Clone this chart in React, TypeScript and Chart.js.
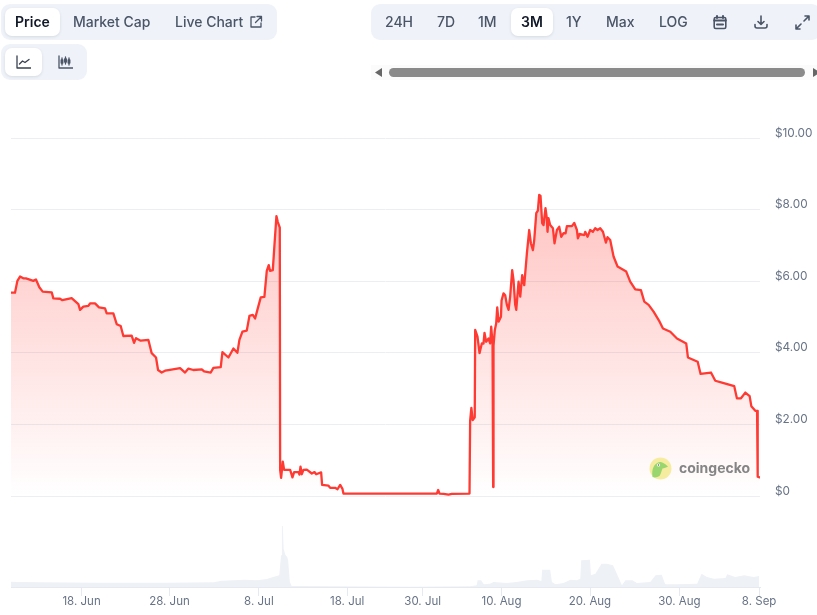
import React, { useEffect, useRef } from "react";
import { Chart, registerables } from "chart.js";

Chart.register(...registerables);

const rangeTabs = [
  { label: "24H", left: 385 },
  { label: "7D", left: 437 },
  { label: "1M", left: 478 },
  { label: "3M", left: 521, active: true },
  { label: "1Y", left: 566 },
  { label: "Max", left: 606 },
  { label: "LOG", left: 659 },
];

const priceTicks = [0, 2, 4, 6, 8, 10];
const tickDays = [7.97, 17.9, 28.0, 37.97, 46.5, 55.4, 65.4, 75.5, 84.5];
const tickLabels = ["18. Jun", "28. Jun", "8. Jul", "18. Jul", "30. Jul", "10. Aug", "20. Aug", "30. Aug", "8. Sep"];

const priceDays = [
  0, 0.45, 0.72, 1.02, 1.39, 1.69, 2.52, 2.82, 3.2, 3.58, 4.6, 4.78, 5.54, 5.8, 6.85, 7.61, 7.8, 8.17, 8.74, 8.93,
  9.49, 9.94, 10.62, 10.81, 11.56, 11.94, 12.39, 12.69, 13.63, 13.9, 14.12, 14.65, 15.52, 15.89, 16.38, 16.61, 17.02,
  17.4, 17.78, 19.1, 19.66, 20.04, 20.6, 21.55, 21.81, 22.56, 22.86, 23.69, 23.88, 24.56, 25.12, 25.57, 25.8, 26.14,
  26.63, 26.93, 27.31, 27.57, 27.83, 28.21, 28.62, 28.89, 29.11, 29.26, 29.57, 29.72, 29.98, 30.13, 30.36, 30.4,
  30.51, 30.7, 30.85, 31.53, 31.79, 31.98, 32.47, 32.58, 32.7, 32.85, 33.03, 33.41, 33.98, 34.28, 34.47, 35.03, 35.14,
  35.86, 36.05, 36.61, 36.88, 37.18, 37.44, 37.55, 48.1, 48.25, 48.4, 48.85, 49.42, 49.79, 51.79, 51.86, 52.0, 52.15,
  52.38, 52.43, 52.69, 52.92, 53.18, 53.37, 53.48, 53.67, 53.94, 54.12, 54.24, 54.39, 54.46, 54.5, 54.65, 54.8, 54.92,
  55.07, 55.34, 55.41, 55.63, 55.82, 56.01, 56.2, 56.38, 56.61, 56.76, 56.95, 57.07, 57.33, 57.52, 57.74, 57.97, 58.27,
  58.53, 58.72, 58.95, 59.1, 59.33, 59.51, 59.66, 59.81, 60.0, 60.15, 60.37, 60.52, 60.6, 60.71, 60.9, 61.21, 61.39,
  61.66, 61.92, 62.15, 62.41, 62.64, 62.79, 63.36, 63.62, 63.92, 64.03, 64.22, 64.75, 64.86, 65.12, 65.42, 65.72,
  65.99, 66.25, 66.55, 66.86, 67.19, 67.38, 67.68, 68.06, 68.51, 69.49, 69.94, 70.51, 71.15, 71.53, 72.02, 72.58,
  73.26, 73.64, 74.47, 75.22, 76.27, 76.46, 77.56, 77.89, 79.06, 79.55, 80.3, 81.69, 81.99, 82.45, 82.94, 83.43,
  83.62, 84.07, 84.27, 84.34, 84.56,
];
const priceValues = [
  5.68, 5.68, 6.01, 6.13, 6.08, 6.08, 6.01, 6.05, 5.83, 5.71, 5.69, 5.52, 5.51, 5.47, 5.53, 5.36, 5.2, 5.29, 5.31, 5.38,
  5.38, 5.27, 5.24, 5.1, 5.1, 4.8, 4.75, 4.47, 4.48, 4.28, 4.41, 4.34, 4.36, 3.99, 3.87, 3.52, 3.45,
  3.5, 3.52, 3.57, 3.45, 3.56, 3.52, 3.54, 3.48, 3.45, 3.58, 3.6, 4.02, 3.87, 4.12, 4.0, 4.36, 4.59,
  4.62, 5.03, 5.06, 4.96, 5.2, 5.55, 5.56, 6.29, 6.45, 6.29, 6.31, 6.87, 7.82, 7.66, 7.5, 0.73,
  0.51, 0.96, 0.73, 0.73, 0.52, 0.67, 0.67, 0.6, 0.82, 0.61, 0.73, 0.74, 0.63, 0.67, 0.61, 0.66, 0.31,
  0.29, 0.23, 0.23, 0.19, 0.31, 0.2, 0.07, 0.07, 0.17, 0.07, 0.06, 0.04, 0.06, 0.07, 2.1, 2.46, 2.12,
  2.2, 4.64, 4.45, 3.99, 4.26, 4.26, 4.56, 4.31, 4.4, 4.26, 4.73, 4.26, 0.25, 4.2, 4.64, 4.82, 5.27,
  4.87, 5.01, 5.46, 5.66, 5.61, 5.34, 5.2, 5.57, 6.31, 6.03, 5.34, 5.2, 5.99, 5.57, 6.17, 5.89, 6.78,
  7.43, 7.06, 6.87, 7.15, 7.9, 7.97, 8.41, 8.38, 7.62, 7.57, 8.04, 7.76, 7.38, 7.76, 7.57, 7.48, 7.06,
  7.43, 7.52, 7.24, 7.34, 7.34, 7.54, 7.54, 7.63, 7.43, 7.2, 7.32, 7.29, 7.38, 7.24, 7.43, 7.38,
  7.48, 7.43, 7.48, 7.38, 7.08, 7.23, 7.15, 6.69, 6.41, 6.27, 5.99, 5.77, 5.75, 5.43, 5.34, 5.15,
  4.87, 4.68, 4.59, 4.4, 4.26, 3.87, 3.75, 3.41, 3.45, 3.22, 3.17, 3.07, 2.73, 2.73, 2.89, 2.79,
  2.51, 2.38, 2.38, 0.54, 0.52,
];

const volumeDays = [
  0, 1, 3.3, 10, 17.6, 22.9, 23.8, 25.1, 26.4, 27.8, 28.9, 29.6, 30.3, 30.5, 30.6, 30.7, 30.8, 31, 31.2, 31.3, 31.5,
  31.7, 36.4, 45, 51.9, 52.6, 52.7, 53.1, 53.4, 54.1, 54.5, 56, 57.1, 58.3, 59.4, 59.9, 60, 60.9, 61.1, 61.5, 62.4,
  63.2, 63.9, 64.3, 64.4, 65.4, 65.5, 66, 66.7, 67.3, 68, 68.6, 69, 69.4, 70.2, 70.7, 72.2, 72.8, 73.5, 73.9, 75.2,
  77.5, 78, 78.6, 79.4, 80.7, 80.9, 81.8, 82.8, 83.9, 84.5,
];
const volumeValues = [
  5.3, 5, 4.7, 4.3, 4.3, 4.7, 6.3, 6.7, 7.3, 6.7, 8, 10, 11.7, 31.7, 61, 61, 38, 32, 30, 26.7, 5,
  1, 0.7, 0.3, 0.7, 1.7, 6.7, 6.7, 2.7, 3.3, 5, 4, 5, 6.7, 7.3, 6, 17.3, 17.3, 5, 2.7, 4,
  7.3, 6.7, 8.3, 26.7, 27.3, 11.7, 13.3, 23.3, 23.3, 21.7, 10, 1.7, 6.7, 6.7, 4, 5, 11.7, 12.3, 2.7, 2.7,
  3.3, 13.3, 10, 8.3, 9, 12.7, 10, 11.7, 10, 11,
];

const FONT = "Inter, 'Noto Sans', sans-serif";
const BAR = "#eff3f9";
const TEXT = "#4a5567";
const ICON = { fill: "none", stroke: TEXT, strokeWidth: 1.6, strokeLinecap: "round", strokeLinejoin: "round" } as const;

const box = (left: number, top: number, width: number, height: number, extra: React.CSSProperties = {}): React.CSSProperties => ({
  position: "absolute",
  left,
  top,
  width,
  height,
  ...extra,
});

const Pill = ({ left, top, width, height }: { left: number; top: number; width: number; height: number }) => (
  <div style={box(left, top, width, height, { background: "#fff", borderRadius: 7, boxShadow: "0 1px 3px rgba(30,40,60,0.12)" })} />
);

const Label = ({ left, children, active }: { left: number; children: React.ReactNode; active?: boolean }) => (
  <span
    style={{
      position: "absolute",
      left,
      top: 13,
      font: `${active ? 600 : 500} 14px/18px ${FONT}`,
      color: active ? "#111827" : TEXT,
      whiteSpace: "nowrap",
    }}
  >
    {children}
  </span>
);

export default function App() {
  const ref = useRef<HTMLCanvasElement>(null);

  useEffect(() => {
    const canvas = ref.current;
    if (!canvas) return;
    const chart = new Chart(canvas, {
      type: "line",
      data: {
        datasets: [
          {
            label: "Price",
            data: priceDays.map((x, i) => ({ x, y: priceValues[i] })),
            yAxisID: "y",
            borderColor: "#ff3a33",
            borderWidth: 2.3,
            borderJoinStyle: "round",
            borderCapStyle: "round",
            pointRadius: 0,
            tension: 0,
            fill: "origin",
            order: 1,
            backgroundColor: (ctx: any) => {
              const { chart: c } = ctx;
              if (!c.chartArea) return "rgba(255,58,51,0.1)";
              const s = c.scales.y;
              const g = c.ctx.createLinearGradient(0, s.getPixelForValue(8.41), 0, s.getPixelForValue(0));
              g.addColorStop(0, "rgba(255,58,51,0.3)");
              g.addColorStop(1, "rgba(255,58,51,0)");
              return g;
            },
          },
          {
            label: "Volume",
            data: volumeDays.map((x, i) => ({ x, y: volumeValues[i] })),
            yAxisID: "yVolume",
            borderWidth: 0,
            pointRadius: 0,
            tension: 0,
            fill: "origin",
            backgroundColor: "#eef1f5",
            order: 2,
          },
        ],
      },
      options: {
        responsive: false,
        animation: false,
        devicePixelRatio: 1,
        layout: { autoPadding: false, padding: { left: 11, top: 138, right: 0, bottom: 0 } },
        plugins: { legend: { display: false }, tooltip: { enabled: false } },
        scales: {
          x: {
            type: "linear",
            min: 0,
            max: 84.6,
            afterBuildTicks: (s: any) => {
              s.ticks = tickDays.map((value) => ({ value }));
            },
            afterFit: (s: any) => {
              s.height = 28;
            },
            grid: { drawOnChartArea: false, drawTicks: true, tickLength: 9, color: "#e6e9f0" },
            border: { color: "#e6e9f0" },
            ticks: {
              autoSkip: false,
              maxRotation: 0,
              padding: -1,
              color: "#677386",
              font: { family: FONT, size: 11.5 },
              callback: (v: any) => tickLabels[tickDays.indexOf(v)] ?? "",
            },
          },
          y: {
            position: "right",
            min: -2.54,
            max: 10,
            afterBuildTicks: (s: any) => {
              s.ticks = priceTicks.map((value) => ({ value }));
            },
            afterFit: (s: any) => {
              s.width = 57;
            },
            grid: { color: "#eceef2", drawTicks: false },
            border: { display: false },
            ticks: {
              padding: 15,
              color: "#677386",
              font: { family: FONT, size: 11.8, lineHeight: 0.85 },
              callback: (v: any) => [v === 0 ? "$0" : `$${Number(v).toFixed(2)}`, ""],
            },
          },
          yVolume: { display: false, min: 0, max: 449 },
        },
      },
    } as any);
    return () => chart.destroy();
  }, []);

  return (
    <div style={box(0, 0, 817, 615, { overflow: "hidden", background: "#fff" })}>
      <canvas ref={ref} width={817} height={615} style={{ position: "absolute", left: 0, top: 0, width: 817, height: 615 }} />

      <div style={box(1, 4, 276, 36, { background: BAR, borderRadius: 9 })} />
      <Pill left={5} top={8} width={55} height={28} />
      <Label left={15} active>Price</Label>
      <Label left={73}>Market Cap</Label>
      <Label left={175}>Live Chart</Label>
      <svg style={box(249, 15, 14, 14)} viewBox="0 0 14 14" {...ICON} strokeWidth={1.3}>
        <path d="M6 2H2v10h10V8M8 1.5h4.5V6M12.5 1.5L6.5 7.5" />
      </svg>

      <div style={box(1, 44, 86, 36, { background: BAR, borderRadius: 9 })} />
      <Pill left={5} top={48} width={37} height={28} />
      <svg style={box(16, 55, 15, 14)} viewBox="0 0 15 14" {...ICON} stroke="#374151" strokeWidth={1.3}>
        <path d="M1 1v12h14M3.5 9l3-3 2.5 1.5L13 4.5" />
      </svg>
      <svg style={box(58, 55, 15, 14)} viewBox="0 0 15 14" {...ICON} strokeWidth={1.3}>
        <path d="M1 1v12h14M4 3v7M7.5 2v7M11 3v7" />
        <path d="M3.2 5h1.6v3H3.2zM6.7 4h1.6v3H6.7zM10.2 5h1.6v3h-1.6z" fill={TEXT} />
      </svg>

      <div style={box(371, 4, 450, 36, { background: BAR, borderRadius: 9 })} />
      <Pill left={511} top={8} width={42} height={28} />
      {rangeTabs.map((t) => (
        <Label key={t.label} left={t.left} active={t.active}>
          {t.label}
        </Label>
      ))}
      <svg style={box(713, 15, 14, 15)} viewBox="0 0 14 15" {...ICON}>
        <rect x="1.2" y="2.5" width="11.6" height="11" rx="1.5" />
        <path d="M1.2 5.5h11.6M4 1v2M10 1v2M4 9.5h6" strokeWidth={2} />
      </svg>
      <svg style={box(754, 15, 14, 14)} viewBox="0 0 14 14" {...ICON}>
        <path d="M7 1v8M4 6.5L7 9.5l3-3M1 9.5v1.5a2 2 0 002 2h8a2 2 0 002-2V9.5" />
      </svg>
      <svg style={box(795, 15, 15, 15)} viewBox="0 0 15 15" {...ICON}>
        <path d="M9 6l5-5M10 1h4v4M6 9l-5 5M1 10v4h4" />
      </svg>

      <div style={box(371, 65, 446, 15, { background: "#fbfbfb" })} />
      <div style={box(389, 68, 416, 9, { background: "#8a8a8a", borderRadius: 5 })} />
      <svg style={box(375, 68, 8, 9)} viewBox="0 0 8 9">
        <path d="M7 0v9L0 4.5z" fill="#666" />
      </svg>
      <svg style={box(812, 68, 8, 9)} viewBox="0 0 8 9">
        <path d="M1 0v9l7-4.5z" fill="#666" />
      </svg>

      <svg style={box(649, 457, 23, 23)} viewBox="0 0 23 23">
        <circle cx="11.5" cy="11.5" r="11" fill="#f6ec9f" />
        <path d="M3.5 20c-.6-4-.4-8 1.500-11 1.600-2.600 5-4.500 7.500-3.800 2.300.6 4.800 2.800 6.500 4.300-1.500 1.400-4 1.400-5.500 2-1 2-1.200 5-3 7.500-2 1.400-5 1.800-7 1z" fill="#9ad670" />
        <circle cx="9.500" cy="8" r="1.500" fill="#fff" />
        <circle cx="9.500" cy="8" r=".7" fill="#555" />
      </svg>
      <span style={{ position: "absolute", left: 679, top: 459, font: `700 14px/18px ${FONT}`, color: "#858585" }}>
        coingecko
      </span>
    </div>
  );
}
